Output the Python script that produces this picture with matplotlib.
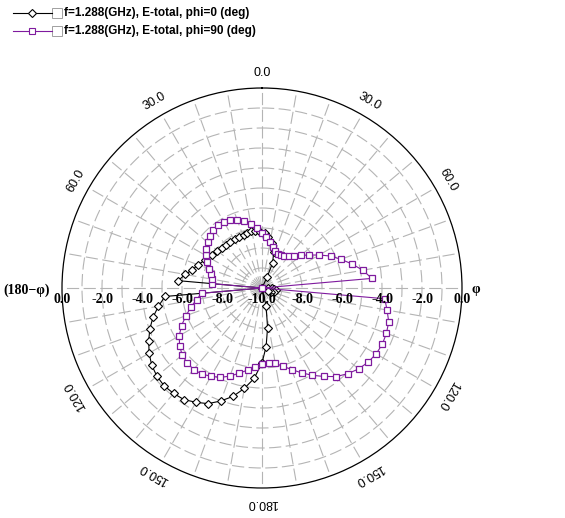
import numpy as np
import matplotlib
matplotlib.use('Agg')
import matplotlib.pyplot as plt
from matplotlib.lines import Line2D
from matplotlib.patches import Rectangle

# E-total 方向图, dB, 中心 = -10 dB
labels = ['f=1.288(GHz), E-total, phi=0 (deg)', 'f=1.288(GHz), E-total, phi=90 (deg)']

theta_phi0 = [-180, -175, -170, -165, -160, -155, -150, -145, -140, -135,
              -130, -125, -120, -115, -110, -105, -100, -95, -90,
              -85, -80, -76, -70, -64, -57, -51, -45, -40, -35,
              -29, -24, -19, -15, -11, -7, -2, 3, 7, 12,
              18, 23, 25, 30,
              87, 92, 95, 99, 107, 112, 115, 120,
              167, 172, 176, 180]
gain_phi0 = [-6.25, -5.46, -4.9, -4.39, -3.99, -3.62, -3.4, -3.19, -3.12, -3.08,
             -3.14, -3.27, -3.48, -3.75, -4.03, -4.36, -4.74, -5.13, -15,
             -5.8, -6.09, -6.37, -6.6, -6.82, -6.99, -7.1, -7.17, -7.2, -7.21,
             -7.2, -7.2, -7.18, -7.13, -7.11, -7.11, -7.18, -7.26, -7.41, -7.71,
             -8.09, -8.65, -9.37, -15,
             -9.69, -9.52, -9.38, -9.29, -9.36, -9.51, -9.65, -15,
             -9.09, -8.0, -7.06, -6.25]

theta_phi90 = list(range(-180, 181, 5))
gain_phi90 = [-6.19, -6.05, -5.83, -5.59, -5.31, -5.07, -4.9, -4.75, -4.68, -4.71,
              -4.79, -4.97, -5.22, -5.56, -5.96, -6.32, -6.68, -6.97, -15,
              -7.51, -7.46, -7.36, -7.2, -6.97, -6.75, -6.6, -6.46, -6.31, -6.19,
              -6.15, -6.17, -6.26, -6.38, -6.54, -6.74, -6.97, -7.23, -7.45, -7.68,
              -7.88, -8.04, -8.12, -8.12, -8.05, -7.93, -7.73, -7.45, -7.13, -6.7,
              -6.22, -5.8, -5.35, -4.88, -4.49, -15,
              -3.84, -3.65, -3.44, -3.38, -3.36, -3.41, -3.53, -3.7, -3.94,
              -4.22, -4.6, -4.96, -5.32, -5.66, -5.95, -6.17, -6.23, -6.19]

r_min, r_max = -10.0, 0.0
r_ticks = [0.0, -2.0, -4.0, -6.0, -8.0, -10.0]
angle_ticks = [0, 30, 60, 120, 150, 180]

purple = '#7f1a9e'
grid_gray = '#b4b4b4'

W, H = 565, 518
fig = plt.figure(figsize=(W / 100, H / 100), dpi=100)
fig.patch.set_facecolor('white')
ax = fig.add_axes([62 / W, 30 / H, 400 / W, 400 / H], projection='polar')
ax.set_theta_zero_location('N')
ax.set_theta_direction(-1)
ax.set_rlim(r_min, r_max)

# 网格: 每 10 度一条辐射线, 每 1 dB 一个圆
ax.set_thetagrids(np.arange(0, 360, 10), labels=[])
ax.set_rgrids(np.arange(-9, 0, 1), labels=[])
ax.grid(True, color=grid_gray, linestyle=(0, (11, 4)), linewidth=0.8)
ax.spines['polar'].set_color('black')
ax.spines['polar'].set_linewidth(0.9)
ax.tick_params(length=0)

# 曲线
t0 = np.deg2rad(theta_phi0)
g0 = np.clip(gain_phi0, r_min, r_max)
ax.plot(t0, g0, color='black', linewidth=0.8, marker='D', markersize=3.6,
        markerfacecolor='white', markeredgecolor='black', markeredgewidth=0.8,
        clip_on=False)
t90 = np.deg2rad(theta_phi90)
g90 = np.clip(gain_phi90, r_min, r_max)
ax.plot(t90, g90, color=purple, linewidth=0.8, marker='s', markersize=3.8,
        markerfacecolor='white', markeredgecolor=purple, markeredgewidth=0.9,
        clip_on=False)

# 径向刻度 (水平轴下方)
serif = ['Liberation Serif', 'DejaVu Serif']
for v in r_ticks:
    ax.annotate('%.1f' % v, xy=(np.deg2rad(-90), v), xytext=(0, -8),
                textcoords='offset points', ha='center', va='center',
                fontsize=10, fontweight='bold', family=serif)
for v in r_ticks[:-1]:
    ax.annotate('%.1f' % v, xy=(np.deg2rad(90), v), xytext=(0, -8),
                textcoords='offset points', ha='center', va='center',
                fontsize=10, fontweight='bold', family=serif)

# 角度刻度
sans = ['Liberation Sans', 'DejaVu Sans']
for a in angle_ticks:
    for s in ([1, -1] if a not in (0, 180) else [1]):
        th = s * a
        ax.text(np.deg2rad(th), 0.75, '%.1f' % a, rotation=-th,
                rotation_mode='anchor', ha='center', va='center',
                fontsize=9, family=sans)

fig.text(3 / W, 1 - 290 / H, '(180\u2212\u03c6)', ha='left', va='center',
         fontsize=10, fontweight='bold', family=serif)
fig.text(472 / W, 1 - 290 / H, '\u03c6', ha='left', va='center',
         fontsize=10, fontweight='bold', family=serif)

# 图例
styles = [('black', 'D', 3.6), (purple, 's', 3.8)]
for i, (lab, (c, m, ms)) in enumerate(zip(labels, styles)):
    y = 1 - (13 + 18 * i) / H
    fig.add_artist(Line2D([13 / W, 52 / W], [y, y], color=c, linewidth=0.8,
                          transform=fig.transFigure))
    fig.add_artist(Line2D([32 / W], [y], color=c, marker=m, markersize=ms,
                          markerfacecolor='white', markeredgewidth=0.8,
                          transform=fig.transFigure))
    fig.add_artist(Rectangle((52 / W, y - 5 / H), 10 / W, 10 / H,
                             facecolor='white', edgecolor='#a0a0a0',
                             linewidth=0.7, transform=fig.transFigure))
    fig.text(64 / W, y, lab, ha='left', va='center', fontsize=8.5,
             fontweight='bold', family=sans)

fig.savefig('out.png', dpi=100, facecolor='white')
